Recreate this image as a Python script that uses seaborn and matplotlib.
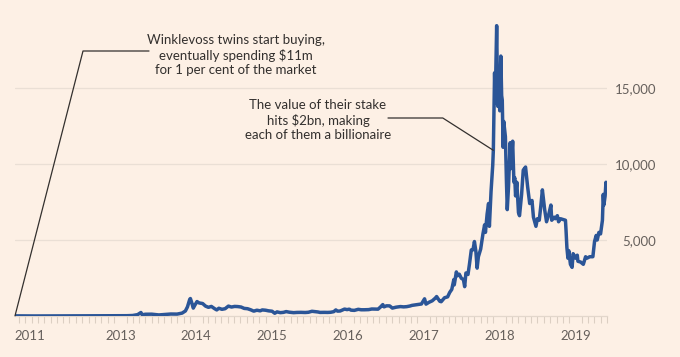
import pandas as pd
import seaborn as sns
import matplotlib.pyplot as plt
import matplotlib.dates as mdates

# Bitcoin price, US$
dates = [
    '2011-08-13', '2011-09-15', '2011-10-15', '2011-11-15', '2011-12-15', '2012-01-15',
    '2012-03-01', '2012-05-01', '2012-07-01', '2012-08-15', '2012-10-01', '2012-11-15',
    '2013-01-01', '2013-02-01', '2013-03-01', '2013-03-25', '2013-04-10', '2013-04-16',
    '2013-05-01', '2013-06-01', '2013-07-05', '2013-08-01', '2013-09-01', '2013-10-01',
    '2013-10-25', '2013-11-10', '2013-11-20', '2013-12-01', '2013-12-04', '2013-12-10',
    '2013-12-18', '2013-12-25', '2014-01-05', '2014-01-15', '2014-02-01', '2014-02-15',
    '2014-03-01', '2014-03-15', '2014-04-01', '2014-04-10', '2014-04-20', '2014-05-05',
    '2014-05-20', '2014-06-05', '2014-06-20', '2014-07-05', '2014-07-20', '2014-08-05',
    '2014-08-20', '2014-09-05', '2014-09-20', '2014-10-05', '2014-10-20', '2014-11-05',
    '2014-11-15', '2014-12-01', '2014-12-15', '2015-01-01', '2015-01-14', '2015-01-25',
    '2015-02-10', '2015-02-25', '2015-03-10', '2015-03-25', '2015-04-15', '2015-05-01',
    '2015-05-20', '2015-06-10', '2015-06-25', '2015-07-12', '2015-07-25', '2015-08-10',
    '2015-08-20', '2015-09-10', '2015-09-25', '2015-10-10', '2015-10-25', '2015-11-04',
    '2015-11-12', '2015-11-25', '2015-12-05', '2015-12-16', '2015-12-28', '2016-01-08',
    '2016-01-16', '2016-02-01', '2016-02-20', '2016-03-05', '2016-03-20', '2016-04-10',
    '2016-04-25', '2016-05-10', '2016-05-25', '2016-06-05', '2016-06-17', '2016-06-23',
    '2016-07-05', '2016-07-20', '2016-08-02', '2016-08-20', '2016-09-10', '2016-09-25',
    '2016-10-10', '2016-10-25', '2016-11-05', '2016-11-20', '2016-12-05', '2016-12-20',
    '2017-01-04', '2017-01-11', '2017-01-25', '2017-02-10', '2017-02-25', '2017-03-03',
    '2017-03-18', '2017-03-25', '2017-04-10', '2017-04-25', '2017-05-05', '2017-05-15',
    '2017-05-25', '2017-05-27', '2017-06-06', '2017-06-12', '2017-06-20', '2017-06-30',
    '2017-07-10', '2017-07-16', '2017-07-22', '2017-08-01', '2017-08-08', '2017-08-17',
    '2017-08-25', '2017-09-01', '2017-09-08', '2017-09-14', '2017-09-20', '2017-10-01',
    '2017-10-12', '2017-10-20', '2017-10-24', '2017-11-01', '2017-11-08', '2017-11-12',
    '2017-11-20', '2017-11-28', '2017-12-01', '2017-12-07', '2017-12-10', '2017-12-13',
    '2017-12-17', '2017-12-22', '2017-12-25', '2017-12-28', '2018-01-01', '2018-01-06',
    '2018-01-10', '2018-01-13', '2018-01-17', '2018-01-20', '2018-01-28', '2018-02-02',
    '2018-02-06', '2018-02-12', '2018-02-20', '2018-02-24', '2018-03-04', '2018-03-10',
    '2018-03-14', '2018-03-18', '2018-03-24', '2018-04-01', '2018-04-06', '2018-04-16',
    '2018-04-24', '2018-05-05', '2018-05-15', '2018-05-25', '2018-06-05', '2018-06-12',
    '2018-06-24', '2018-07-01', '2018-07-10', '2018-07-18', '2018-07-25', '2018-08-05',
    '2018-08-14', '2018-08-25', '2018-09-04', '2018-09-08', '2018-09-20', '2018-09-25',
    '2018-10-05', '2018-10-11', '2018-10-20', '2018-11-01', '2018-11-13', '2018-11-16',
    '2018-11-20', '2018-11-25', '2018-11-29', '2018-12-07', '2018-12-15', '2018-12-20',
    '2018-12-24', '2019-01-01', '2019-01-09', '2019-01-12', '2019-01-25', '2019-02-07',
    '2019-02-18', '2019-02-24', '2019-03-10', '2019-03-25', '2019-04-02', '2019-04-10',
    '2019-04-15', '2019-04-23', '2019-05-01', '2019-05-10', '2019-05-14', '2019-05-17',
    '2019-05-23', '2019-05-27', '2019-05-29',
]
prices = [
    10, 5, 3.5, 2.5, 3.5, 7,
    5, 5, 7, 12, 12, 11,
    13, 20, 33, 90, 230, 80,
    115, 120, 70, 100, 130, 125,
    190, 330, 600, 1100, 1150, 900,
    520, 700, 950, 860, 820, 650,
    570, 630, 470, 400, 510, 440,
    480, 650, 590, 630, 620, 590,
    500, 480, 410, 320, 380, 340,
    400, 380, 340, 315, 180, 270,
    220, 240, 290, 250, 220, 235,
    240, 230, 245, 310, 290, 265,
    235, 240, 235, 245, 285, 400,
    320, 330, 390, 455, 420, 450,
    385, 370, 440, 410, 410, 420,
    460, 455, 450, 580, 750, 600,
    670, 665, 520, 580, 620, 600,
    615, 655, 700, 730, 760, 790,
    1130, 780, 900, 1000, 1180, 1280,
    970, 940, 1200, 1260, 1550, 1750,
    2400, 2050, 2900, 2650, 2750, 2480,
    2400, 1930, 2830, 2730, 3400, 4350,
    4350, 4900, 4250, 3150, 3900, 4400,
    5400, 6000, 5500, 6700, 7400, 5900,
    8200, 9900, 10900, 16000, 14000, 16300,
    19100, 13800, 14000, 14400, 13500, 17100,
    14500, 14200, 11100, 12800, 11800, 8900,
    7000, 8500, 11400, 9700, 11500, 8800,
    9100, 7900, 8800, 6800, 6600, 8000,
    9600, 9800, 8500, 7400, 7600, 6500,
    5900, 6400, 6300, 7300, 8300, 7000,
    6200, 6700, 7300, 6300, 6500, 6400,
    6600, 6200, 6400, 6350, 6300, 5600,
    4500, 3800, 4300, 3400, 3200, 4100,
    4000, 3800, 4000, 3600, 3550, 3400,
    3900, 3800, 3900, 3900, 4900, 5300,
    5000, 5500, 5400, 6300, 8000, 7300,
    7900, 8800, 8600,
]

year_tick_dates = ['2011-10-23', '2013-01-01', '2014-01-01', '2015-01-01', '2016-01-01',
                   '2017-01-01', '2018-01-01', '2019-01-01']
year_labels = ['2011', '2013', '2014', '2015', '2016', '2017', '2018', '2019']
price_ticks = [5000, 10000, 15000]
price_labels = ['5,000', '10,000', '15,000']

note_buy = 'Winklevoss twins start buying,\neventually spending $11m\nfor 1 per cent of the market'
note_stake = 'The value of their stake\nhits $2bn, making\neach of them a billionaire'
stake_date = '2017-12-01'

df = pd.DataFrame({'date': pd.to_datetime(dates), 'price': prices})

bg = '#fdf0e5'
line_col = '#2b5597'
text_col = '#33302e'
tick_col = '#66605c'
grid_col = '#eadfd5'

sns.set_theme(style='white', rc={'axes.facecolor': bg, 'figure.facecolor': bg})
plt.rcParams['font.family'] = ['Lato', 'DejaVu Sans']

W, H = 680, 357
fig = plt.figure(figsize=(W / 100, H / 100), dpi=100)
ax = fig.add_axes([15 / W, 41 / H, 592 / W, 296.4 / H])

sns.lineplot(data=df, x='date', y='price', color=line_col, linewidth=2.5, ax=ax, zorder=3)

ax.set_xlim(pd.Timestamp('2011-08-13'), pd.Timestamp('2019-06-01'))
ax.set_ylim(0, 19500)
ax.set_xlabel('')
ax.set_ylabel('')

# x axis: years + monthly ticks
ax.set_xticks(pd.to_datetime(year_tick_dates))
ax.set_xticklabels(year_labels)
ax.xaxis.set_minor_locator(mdates.MonthLocator())
ax.tick_params(axis='x', which='major', length=0, pad=10, labelsize=9.5, labelcolor=tick_col)
ax.tick_params(axis='x', which='minor', length=5, width=0.8, color='#dccfc3', bottom=True)

# y axis: labels on the right, right-aligned
ax.set_yticks(price_ticks)
ax.set_yticklabels(price_labels)
ax.yaxis.tick_right()
ax.tick_params(axis='y', length=0, pad=35.5, labelsize=9.5, labelcolor=tick_col)
for lab in ax.get_yticklabels():
    lab.set_horizontalalignment('right')
ax.grid(axis='y', color=grid_col, linewidth=0.9)
ax.set_axisbelow(True)

for side in ['top', 'left', 'right']:
    ax.spines[side].set_visible(False)
ax.spines['bottom'].set_color('#e3d7cc')
ax.spines['bottom'].set_linewidth(0.9)

# annotations
fig.text(236 / W, 1 - 55 / H, note_buy, ha='center', va='center', fontsize=9.5,
         color=text_col, linespacing=1.2)
ax.annotate('', xy=(df['date'].iloc[0], prices[0]), xycoords='data',
            xytext=(149, H - 51), textcoords='figure pixels',
            arrowprops=dict(arrowstyle='-', color=text_col, lw=0.9, shrinkA=0, shrinkB=0,
                            connectionstyle='angle,angleA=0,angleB=75.6,rad=0'))

fig.text(318 / W, 1 - 120 / H, note_stake, ha='center', va='center', fontsize=9.5,
         color=text_col, linespacing=1.2)
i = dates.index(stake_date)
ax.annotate('', xy=(df['date'].iloc[i], prices[i]), xycoords='data',
            xytext=(388, H - 118), textcoords='figure pixels',
            arrowprops=dict(arrowstyle='-', color=text_col, lw=0.9, shrinkA=0, shrinkB=0,
                            connectionstyle='angle,angleA=0,angleB=147.4,rad=0'))

fig.savefig('out.png', dpi=100, facecolor=bg)
